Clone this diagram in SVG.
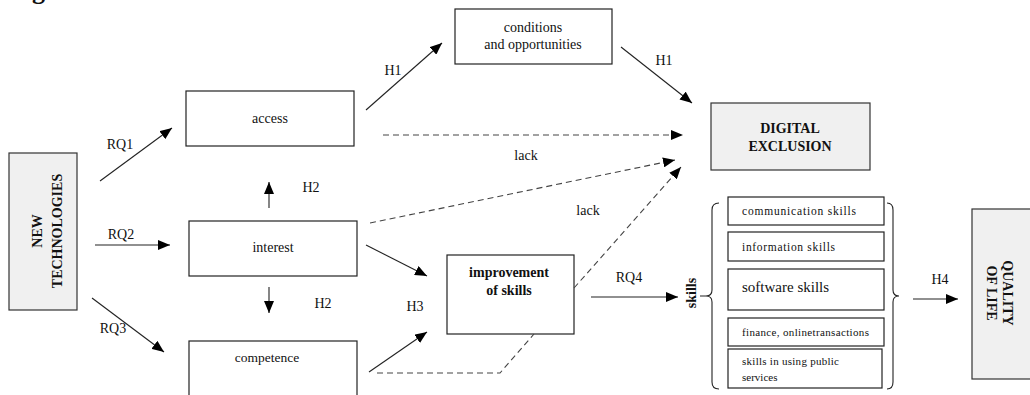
<svg xmlns="http://www.w3.org/2000/svg" width="1030" height="395" viewBox="0 0 1030 395" font-family="'Liberation Serif', 'Times New Roman', serif">
<style>
text{font-family:"Liberation Serif","Times New Roman",serif;fill:#111;}
.lbl{font-size:14px;text-anchor:middle;}
.b{font-weight:bold;}
.box{fill:#fff;stroke:#222;stroke-width:1.2;}
.gray{fill:#f0f0f0;stroke:#333;stroke-width:1.2;}
.ln{stroke:#222;stroke-width:1.1;fill:none;}
.dash{stroke:#444;stroke-width:1.1;fill:none;stroke-dasharray:6 4;}
.sk{font-size:11.5px;}
</style>
<defs>
<marker id="ah" markerWidth="12" markerHeight="10" refX="12" refY="5" orient="auto" markerUnits="userSpaceOnUse">
<path d="M0,0 L12,5 L0,10 z" fill="#000"/>
</marker>
</defs>
<text x="9" y="-1" class="b" style="font-size:26px">Figure 1. Research model</text>

<g id="new-technologies">
<rect class="gray" x="9" y="153" width="68" height="157"/>
<text class="b" style="font-size:14px" text-anchor="middle" transform="translate(43,231) rotate(-90)"><tspan x="0" y="-1">NEW</tspan><tspan x="0" y="19">TECHNOLOGIES</tspan></text>
</g>
<g id="access">
<rect class="box" x="186" y="91" width="168" height="55"/>
<text class="lbl" x="270" y="123">access</text>
</g>
<g id="interest">
<rect class="box" x="189" y="221" width="168" height="55"/>
<text class="lbl" x="273" y="252">interest</text>
</g>
<g id="competence">
<rect class="box" x="189" y="341" width="168" height="60"/>
<text class="lbl" x="267" y="362" style="font-size:13.5px">competence</text>
</g>
<g id="conditions">
<rect class="box" x="455" y="9" width="157" height="55"/>
<text class="lbl" x="533" y="32">conditions</text>
<text class="lbl" x="533" y="49">and opportunities</text>
</g>
<g id="improvement">
<rect class="box" x="447" y="255" width="127" height="79"/>
<text class="lbl b" x="509" y="277">improvement</text>
<text class="lbl b" x="509" y="295">of skills</text>
</g>
<g id="digital-exclusion">
<rect class="gray" x="711" y="103" width="159" height="67"/>
<text class="lbl b" x="790" y="133">DIGITAL</text>
<text class="lbl b" x="790" y="151">EXCLUSION</text>
</g>
<g id="skills">
<text class="b" style="font-size:14px" text-anchor="middle" transform="translate(691,293) rotate(-90)" y="5">skills</text>
<path class="ln" d="M700,296 L706,296 Q712,296 712,290 L712,210 Q712,203 719,203 M706,296 Q712,296 712,302 L712,382 Q712,389 719,389"/>
<path class="ln" d="M898,296 L899,296 Q893,296 893,290 L893,210 Q893,203 887,203 M899,296 Q893,296 893,302 L893,382 Q893,389 887,389"/>
</g>
<g id="communication-skills">
<rect class="box" x="728" y="197" width="156" height="28"/>
<text class="sk" x="742" y="215" textLength="114">communication skills</text>
</g>
<g id="information-skills">
<rect class="box" x="728" y="232" width="156" height="29"/>
<text class="sk" x="742" y="251" textLength="93">information skills</text>
</g>
<g id="software-skills">
<rect class="box" x="728" y="269" width="156" height="41"/>
<text x="742" y="292" style="font-size:15px">software skills</text>
</g>
<g id="finance">
<rect class="box" x="728" y="318" width="156" height="28"/>
<text class="sk" x="742" y="336" textLength="127" style="font-size:11px">finance, onlinetransactions</text>
</g>
<g id="public-services">
<rect class="box" x="728" y="349" width="154" height="39"/>
<text class="sk" x="742" y="365" textLength="97" style="font-size:11px">skills in using public</text>
<text class="sk" x="742" y="381" style="font-size:11px">services</text>
</g>
<g id="quality-of-life">
<rect class="gray" x="972" y="209" width="62" height="170"/>
<text class="b" style="font-size:14px" text-anchor="middle" transform="translate(1000,293) rotate(90)"><tspan x="0" y="-3">QUALITY</tspan><tspan x="0" y="13">OF LIFE</tspan></text>
</g>

<g id="connectors">
<line class="ln" x1="100" y1="181" x2="172" y2="128" marker-end="url(#ah)"/>
<line class="ln" x1="95" y1="245" x2="170" y2="245" marker-end="url(#ah)"/>
<line class="ln" x1="92" y1="298" x2="164" y2="352" marker-end="url(#ah)"/>
<line class="ln" x1="269" y1="208" x2="269" y2="182" marker-end="url(#ah)"/>
<line class="ln" x1="269" y1="287" x2="269" y2="313" marker-end="url(#ah)"/>
<line class="ln" x1="366" y1="110" x2="442" y2="43" marker-end="url(#ah)"/>
<line class="ln" x1="621" y1="47" x2="692" y2="103" marker-end="url(#ah)"/>
<line class="dash" x1="383" y1="135" x2="683" y2="135" marker-end="url(#ah)"/>
<line class="dash" x1="370" y1="223" x2="675" y2="160" marker-end="url(#ah)"/>
<line class="dash" x1="574" y1="288" x2="681" y2="167" marker-end="url(#ah)"/>
<polyline class="dash" points="377,373 500,373 534,334"/>
<line class="ln" x1="366" y1="245" x2="427" y2="276" marker-end="url(#ah)"/>
<line class="ln" x1="369" y1="372" x2="427" y2="332" marker-end="url(#ah)"/>
<line class="ln" x1="591" y1="297" x2="678" y2="297" marker-end="url(#ah)"/>
<line class="ln" x1="913" y1="299" x2="958" y2="299" marker-end="url(#ah)"/>
<text class="lbl" x="120" y="149">RQ1</text>
<text class="lbl" x="121" y="239">RQ2</text>
<text class="lbl" x="113" y="333">RQ3</text>
<text class="lbl" x="311" y="192">H2</text>
<text class="lbl" x="323" y="308">H2</text>
<text class="lbl" x="393" y="75">H1</text>
<text class="lbl" x="664" y="65">H1</text>
<text class="lbl" x="526" y="160">lack</text>
<text class="lbl" x="588" y="215">lack</text>
<text class="lbl" x="415" y="311">H3</text>
<text class="lbl" x="629" y="282">RQ4</text>
<text class="lbl" x="940" y="284">H4</text>
</g>
</svg>
